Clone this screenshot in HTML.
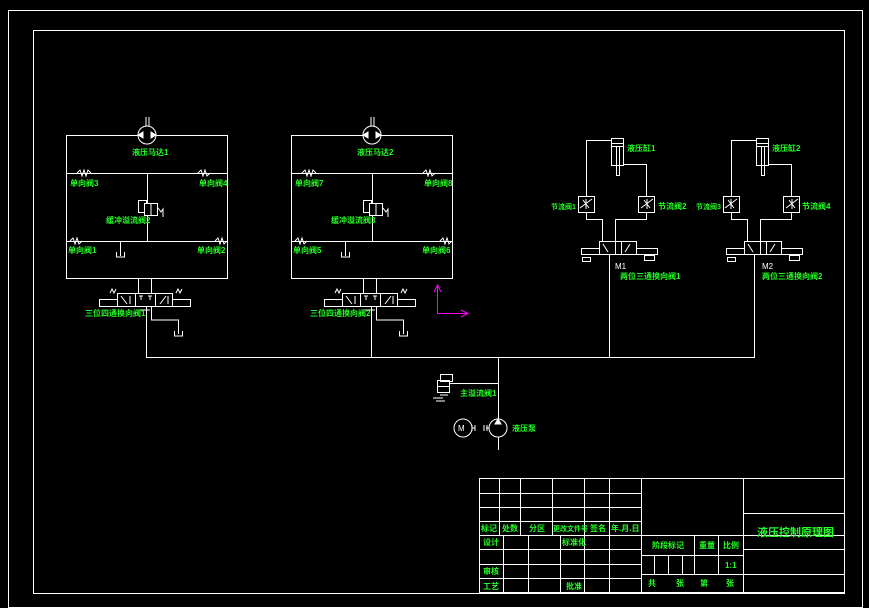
<!DOCTYPE html>
<html><head><meta charset="utf-8"><style>
html,body{margin:0;padding:0;background:#000;}
svg{display:block}
text{font-family:"Liberation Sans","Noto Sans CJK SC",sans-serif;fill:#2f2;font-size:8px;font-weight:bold;}
</style></head><body>
<svg width="869" height="608" viewBox="0 0 869 608" xmlns="http://www.w3.org/2000/svg">
<rect width="869" height="608" fill="#000"/>
<g stroke="#fff" fill="none" stroke-width="1">
<rect x="8.5" y="10.5" width="854" height="597"/>
<rect x="33.5" y="30.5" width="811" height="563"/>

<defs>
<g id="circ">
 <rect x="66.5" y="135.5" width="161" height="143"/>
 <circle cx="147" cy="135" r="9" fill="#000"/>
 <line x1="146" y1="117" x2="146" y2="126"/><line x1="149" y1="117" x2="149" y2="126"/>
 <path d="M138 135 l5 -3 v6z M156 135 l-5 -3 v6z" fill="#fff"/>
 <line x1="66" y1="173.5" x2="228" y2="173.5"/>
 <path d="M77 173 l3 -3 l2 6 l2 -6 l2 6 l2 -6 l3 3 M198 173 l3 -3 l2 6 l2 -6 l2 6 l3 -3"/>
 <line x1="66" y1="241.5" x2="228" y2="241.5"/>
 <path d="M70 241 l3 -3 l2 6 l2 -6 l2 6 l3 -3 M215 241 l3 -3 l2 6 l2 -6 l2 6 l3 -3"/>
 <line x1="147.5" y1="173" x2="147.5" y2="242"/>
 <rect x="138.5" y="200.5" width="8" height="12"/>
 <rect x="144.5" y="203.5" width="13" height="12" fill="#000"/>
 <line x1="151" y1="203" x2="151" y2="215"/>
 <path d="M158 208 l3 4 l2 -3 v8"/>
 <path d="M120.5 241 v15 M116.5 252 v5 h8 v-5"/>
 <path d="M138.5 279 v14 M151.5 279 v14"/>
 <rect x="99.5" y="299.5" width="91" height="7"/>
 <rect x="117.5" y="293.5" width="55" height="13" fill="#000"/>
 <line x1="135.5" y1="293" x2="135.5" y2="306"/><line x1="155.5" y1="293" x2="155.5" y2="306"/>
 <path d="M121 296 l6 8 M130 296 v8 M160 304 l6 -8 M168 296 v8 M139 296 h4 M148 296 h4 M141 296 v4 M150 296 v4"/>
 <path d="M110 293 l2 -4 l2 4 l2 -4 M176 293 l2 -4 l2 4 l2 -4"/>
 <path d="M146.5 306 v51 M137 310 h13 M151.5 306 v14 h27 v14 M174.5 331 v5 h8 v-5"/>
</g>
<g id="cyl">
 <rect x="611.5" y="138.5" width="12" height="27"/>
 <line x1="611" y1="143.5" x2="624" y2="143.5"/><line x1="611" y1="146.5" x2="624" y2="146.5"/>
 <rect x="616.5" y="146.5" width="3" height="29"/>
 <path d="M611 140.5 H586.5 V219.5 H602.5 V241 M623 164.5 H646.5 V219.5 H615.5 V241"/>
 <rect x="578.5" y="196.5" width="16" height="16" fill="#000"/>
 <rect x="638.5" y="196.5" width="16" height="16" fill="#000"/>
 <path d="M580 208 l12 -9 M583 200 l6 8 M586 199 v10 M641 208 l12 -9 M644 200 l6 8 M647 199 v10"/>
 <rect x="581.5" y="248.5" width="76" height="6"/>
 <rect x="599.5" y="241.5" width="37" height="13" fill="#000"/>
 <line x1="615.5" y1="242" x2="615.5" y2="254"/><line x1="621.5" y1="242" x2="621.5" y2="254"/>
 <path d="M603 244 l5 8 M625 252 l5 -8"/>
 <rect x="582.5" y="257.5" width="8" height="4"/><rect x="644.5" y="255.5" width="10" height="5"/>
</g>
</defs>
<use href="#circ"/>
<use href="#circ" transform="translate(225,0)"/>
<line x1="146" y1="357.5" x2="755" y2="357.5"/>
<use href="#cyl"/>
<use href="#cyl" transform="translate(145,0)"/>
<line x1="609.5" y1="254" x2="609.5" y2="357"/>
<line x1="754.5" y1="254" x2="754.5" y2="357"/>
<line x1="498.5" y1="357" x2="498.5" y2="450"/>
<line x1="450" y1="383.5" x2="498" y2="383.5"/>
<rect x="440.5" y="374.5" width="12" height="7"/>
<rect x="437.5" y="380.5" width="12" height="6"/>
<rect x="437.5" y="386.5" width="12" height="6"/>
<path d="M433 398 h10 M436 401 h9 M440 395 h8"/>
<circle cx="463" cy="428" r="9"/>
<circle cx="498" cy="428" r="9" fill="#000"/>
<path d="M498 419 l-3 5 h6z" fill="#fff"/>
<path d="M472 425 v6 M475 425 v6 M472 428 h3 M487 425 v6 M484 425 v6 M486 428 h3"/>
<text x="458" y="431" stroke="none" style="fill:#fff;font-size:8px;font-weight:normal">M</text>
</g>
<g stroke="#f0f" fill="none">
<path d="M437.5 285 V313.5 H468 M434 292 l3.5 -7 l3.5 7 M461 310 l7 3.5 l-7 3.5"/>
</g>
<g stroke="#fff" fill="none">
<rect x="479.5" y="478.5" width="365" height="114"/>
<path d="M479 493.5 H641 M479 507.5 H641 M479 521.5 H641 M479 535.5 H845 M479 549.5 H641 M479 564.5 H641 M479 578.5 H641 M641 555.5 H743 M641 574.5 H845 M743 513.5 H845 M743 549.5 H845"/>
<path d="M641.5 478 V593 M743.5 478 V593 M499.5 478 V535 M520.5 478 V535 M552.5 478 V535 M584.5 478 V593 M609.5 478 V593 M503.5 535 V593 M528.5 535 V593 M560.5 535 V593 M694.5 535 V574 M718.5 535 V574 M654.5 555 V574 M668.5 555 V574 M682.5 555 V574"/>
</g>
<g>
<text x="132" y="155">液压马达1</text>
<text x="357" y="155">液压马达2</text>
<text x="70" y="186">单向阀3</text><text x="199" y="186">单向阀4</text>
<text x="295" y="186">单向阀7</text><text x="424" y="186">单向阀8</text>
<text x="106" y="223">缓冲溢流阀2</text><text x="331" y="223">缓冲溢流阀3</text>
<text x="68" y="253">单向阀1</text><text x="197" y="253">单向阀2</text>
<text x="293" y="253">单向阀5</text><text x="422" y="253">单向阀6</text>
<text x="85" y="316">三位四通换向阀1</text><text x="310" y="316">三位四通换向阀2</text>
<text x="627" y="151">液压缸1</text><text x="772" y="151">液压缸2</text>
<text x="551" y="209" style="font-size:7px">节流阀1</text><text x="658" y="209">节流阀2</text>
<text x="696" y="209" style="font-size:7px">节流阀3</text><text x="802" y="209">节流阀4</text>
<text x="615" y="269" style="fill:#fff;font-weight:normal">M1</text><text x="762" y="269" style="fill:#fff;font-weight:normal">M2</text>
<text x="620" y="279">两位三通换向阀1</text><text x="762" y="279">两位三通换向阀2</text>
<text x="460" y="396">主溢流阀1</text>
<text x="512" y="431">液压泵</text>
<text x="481" y="531">标记</text><text x="502" y="531">处数</text><text x="529" y="531">分区</text>
<text x="553" y="531" style="font-size:7px">更改文件号</text><text x="590" y="531">签名</text><text x="611" y="531">年.月.日</text>
<text x="483" y="545">设计</text><text x="562" y="545">标准化</text>
<text x="483" y="574">审核</text><text x="483" y="589">工艺</text><text x="566" y="589">批准</text>
<text x="652" y="548">阶段标记</text><text x="699" y="548">重量</text><text x="723" y="548">比例</text>
<text x="725" y="568">1:1</text>
<text x="648" y="586">共</text><text x="676" y="586">张</text><text x="700" y="586">第</text><text x="726" y="586">张</text>
<text x="757" y="536" style="font-size:11px">液压控制原理图</text>
</g>
</svg>
</body></html>
